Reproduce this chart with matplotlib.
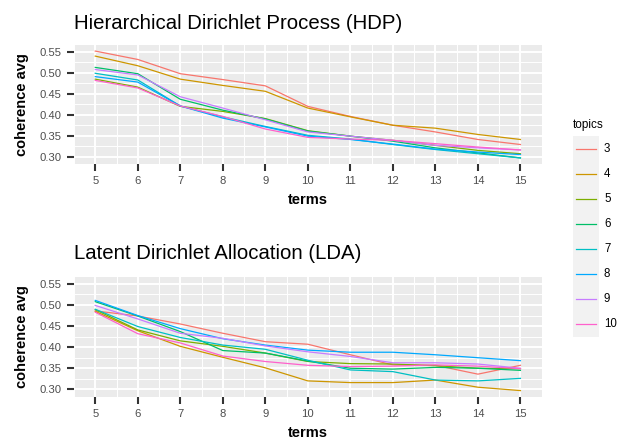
import matplotlib
matplotlib.use("Agg")
import matplotlib.pyplot as plt
from matplotlib.patches import Rectangle
from matplotlib.ticker import MultipleLocator
from matplotlib.lines import Line2D

plt.rcParams['font.family'] = ['Liberation Sans', 'DejaVu Sans']

terms = [5, 6, 7, 8, 9, 10, 11, 12, 13, 14, 15]
topics = ['3', '4', '5', '6', '7', '8', '9', '10']
colors = ['#F8766D', '#CD9600', '#7CAE00', '#00BE67', '#00BFC4', '#00A9FF', '#C77CFF', '#FF61CC']

hdp_3 = [0.552, 0.532, 0.498, 0.484, 0.469, 0.420, 0.396, 0.375, 0.359, 0.341, 0.329]
hdp_4 = [0.540, 0.517, 0.485, 0.470, 0.456, 0.416, 0.395, 0.375, 0.368, 0.353, 0.341]
hdp_5 = [0.485, 0.466, 0.420, 0.408, 0.391, 0.362, 0.349, 0.339, 0.327, 0.315, 0.307]
hdp_6 = [0.513, 0.498, 0.437, 0.411, 0.390, 0.361, 0.349, 0.337, 0.321, 0.309, 0.297]
hdp_7 = [0.499, 0.483, 0.421, 0.395, 0.372, 0.351, 0.342, 0.329, 0.317, 0.307, 0.297]
hdp_8 = [0.491, 0.478, 0.421, 0.392, 0.371, 0.349, 0.341, 0.330, 0.318, 0.311, 0.305]
hdp_9 = [0.508, 0.495, 0.443, 0.416, 0.388, 0.359, 0.349, 0.339, 0.327, 0.321, 0.316]
hdp_10 = [0.482, 0.464, 0.421, 0.396, 0.366, 0.346, 0.342, 0.339, 0.331, 0.323, 0.316]

lda_3 = [0.486, 0.474, 0.455, 0.433, 0.413, 0.407, 0.382, 0.358, 0.357, 0.336, 0.357]
lda_4 = [0.485, 0.439, 0.402, 0.376, 0.351, 0.320, 0.316, 0.316, 0.322, 0.305, 0.297]
lda_5 = [0.489, 0.441, 0.415, 0.402, 0.386, 0.366, 0.361, 0.360, 0.356, 0.350, 0.349]
lda_6 = [0.508, 0.474, 0.437, 0.392, 0.386, 0.367, 0.350, 0.348, 0.352, 0.350, 0.345]
lda_7 = [0.490, 0.449, 0.423, 0.405, 0.395, 0.369, 0.346, 0.342, 0.322, 0.320, 0.326]
lda_8 = [0.511, 0.475, 0.444, 0.420, 0.405, 0.393, 0.388, 0.388, 0.382, 0.375, 0.368]
lda_9 = [0.499, 0.467, 0.433, 0.421, 0.403, 0.389, 0.378, 0.363, 0.363, 0.360, 0.350]
lda_10 = [0.483, 0.432, 0.410, 0.379, 0.366, 0.357, 0.354, 0.355, 0.358, 0.355, 0.349]

hdp = [hdp_3, hdp_4, hdp_5, hdp_6, hdp_7, hdp_8, hdp_9, hdp_10]
lda = [lda_3, lda_4, lda_5, lda_6, lda_7, lda_8, lda_9, lda_10]

W, H = 628, 445
fig = plt.figure(figsize=(W / 100, H / 100), dpi=100)

def px_rect(l, t, r, b):
    return [l / W, 1 - b / H, (r - l) / W, (b - t) / H]

def style(ax, series, title, title_top):
    ax.set_facecolor('#EBEBEB')
    for s in ['top', 'right', 'bottom', 'left']:
        ax.spines[s].set_visible(False)
    for vals, c in zip(series, colors):
        ax.plot(terms, vals, color=c, lw=0.9, solid_joinstyle='round', zorder=3)
    ax.set_xlim(4.5, 15.5)
    ax.set_ylim(0.2825, 0.5665)
    ax.xaxis.set_major_locator(MultipleLocator(1))
    ax.xaxis.set_minor_locator(MultipleLocator(0.5))
    ax.yaxis.set_major_locator(MultipleLocator(0.05))
    ax.yaxis.set_minor_locator(MultipleLocator(0.025))
    ax.set_yticks([0.30, 0.35, 0.40, 0.45, 0.50, 0.55])
    ax.set_yticklabels(['0.30', '0.35', '0.40', '0.45', '0.50', '0.55'])
    ax.grid(which='major', color='white', lw=1.4, zorder=1)
    ax.grid(which='minor', color='white', lw=0.7, zorder=1)
    ax.tick_params(which='major', length=5, width=1.5, color='#333333',
                   labelcolor='#4D4D4D', labelsize=8.1, pad=4)
    ax.tick_params(which='minor', length=0)
    ax.set_axisbelow(True)
    ax.set_xlabel('terms', fontsize=10.5, fontweight='bold', labelpad=5)
    pos = ax.get_position()
    fig.text(22 / W, pos.y0 + pos.height / 2, 'coherence avg', rotation=90,
             ha='center', va='center', fontsize=10.5, fontweight='bold')
    fig.text(74 / W, 1 - title_top / H, title, ha='left', va='baseline', fontsize=14.7)

ax1 = fig.add_axes(px_rect(74, 45, 541.7, 164))
style(ax1, hdp, 'Hierarchical Dirichlet Process (HDP)', 28.8)
ax2 = fig.add_axes(px_rect(74, 277, 541.7, 396.7))
style(ax2, lda, 'Latent Dirichlet Allocation (LDA)', 259)

# legend
lax = fig.add_axes([0, 0, 1, 1], facecolor='none')
lax.set_xlim(0, W)
lax.set_ylim(H, 0)
lax.axis('off')
lax.add_patch(Rectangle((572.7, 136), 26.3, 201, facecolor='#F2F2F2', edgecolor='none'))
lax.text(573, 125, 'topics', fontsize=8.5, ha='left', va='center', color='black')
for i, (t, c) in enumerate(zip(topics, colors)):
    yy = 149 + 25 * i
    lax.add_line(Line2D([576, 596], [yy, yy], color=c, lw=0.9))
    lax.text(604, yy, t, fontsize=8.3, ha='left', va='center', color='black')

fig.savefig('out.png', dpi=100)
